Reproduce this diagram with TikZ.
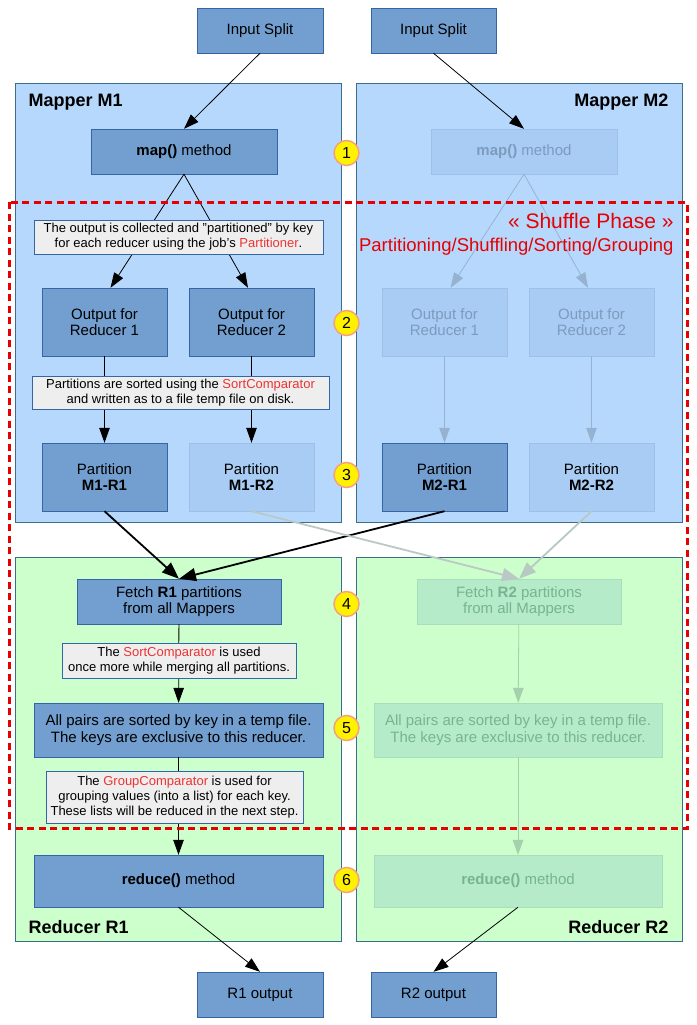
\documentclass[tikz,border=0pt]{standalone}
\usepackage{fontspec}
\setmainfont{Liberation Sans}
\usetikzlibrary{arrows.meta}

\definecolor{mapbg}{RGB}{183,216,253}
\definecolor{redbg}{RGB}{204,255,204}
\definecolor{frameline}{RGB}{60,110,140}
\definecolor{boxfill}{RGB}{114,159,207}
\definecolor{boxline}{RGB}{52,101,164}
\definecolor{notefill}{RGB}{238,238,238}
\definecolor{hilite}{RGB}{238,51,51}
\definecolor{fadefill}{RGB}{168,204,243}
\definecolor{fadeline}{RGB}{158,192,232}
\definecolor{fadetext}{RGB}{125,155,190}
\definecolor{fadearrow}{RGB}{150,178,208}
\definecolor{greenfill}{RGB}{181,235,200}
\definecolor{greenline}{RGB}{168,222,188}
\definecolor{greentext}{RGB}{120,180,145}
\definecolor{greenarrow}{RGB}{165,208,172}
\definecolor{crossarrow}{RGB}{188,200,198}
\definecolor{shuffle}{RGB}{230,0,0}
\definecolor{badgeline}{RGB}{244,160,130}

\newcommand{\boxfont}{\fontsize{15}{16.5}\selectfont}
\newcommand{\notefont}{\fontsize{13}{15}\selectfont}
\newcommand{\titlefont}{\fontsize{18}{20}\selectfont\bfseries}
\newcommand{\redword}[1]{\textcolor{hilite}{#1}}

\tikzset{
    blk/.style={draw=boxline, fill=boxfill, inner sep=0pt, align=center, font=\boxfont},
    fadeblk/.style={draw=fadeline, fill=fadefill, inner sep=0pt, align=center, font=\boxfont},
    greenblk/.style={draw=greenline, fill=greenfill, text=greentext, inner sep=0pt, align=center, font=\boxfont},
    note/.style={draw=boxline, fill=notefill, inner sep=0pt, align=center, font=\notefont},
    badge/.style={circle, draw=badgeline, fill=yellow, line width=1.5pt, minimum size=25, inner sep=0pt, font=\fontsize{16}{18}\selectfont},
    small/.style={minimum width=125, minimum height=68},
    heavy/.style={line width=1.8pt, -{Triangle[length=17pt,width=13pt]}},
}

\begin{document}
\begin{tikzpicture}[x=1pt, y=-1pt, >={Triangle[length=15pt,width=10.5pt]}]
    \useasboundingbox (0,0) rectangle (696,1025);

    % frames
    \filldraw[fill=mapbg, draw=frameline] (15,83) rectangle (341,522);
    \filldraw[fill=mapbg, draw=frameline] (356,83) rectangle (682,522);
    \filldraw[fill=redbg, draw=frameline] (15,557) rectangle (341,941);
    \filldraw[fill=redbg, draw=frameline] (356,557) rectangle (682,941);
    \node[font=\titlefont, anchor=base west] (m1title) at (25,106) {Mapper M1};
    \node[font=\titlefont, anchor=base east] (m2title) at (672,106) {Mapper M2};
    \node[font=\titlefont, anchor=base west] (r1title) at (25,933) {Reducer R1};
    \node[font=\titlefont, anchor=base east] (r2title) at (672,933) {Reducer R2};

    % nodes
    \begin{scope}[every node/.append style={minimum width=186, minimum height=45}]
        \node[blk, minimum width=126] (in1) at (260,30.5) {Input Split};
        \node[blk, minimum width=125] (in2) at (433.5,30.5) {Input Split};
        \node[blk] (map1) at (184,151.5) {\textbf{map()} method};
        \node[fadeblk, text=fadetext] (map2) at (524,151.5) {\textbf{map()} method};
        \node[blk, minimum width=204] (fetch1) at (179,601.5) {Fetch \textbf{R1} partitions\\from all Mappers};
        \node[greenblk, minimum width=204] (fetch2) at (519,601.5) {Fetch \textbf{R2} partitions\\from all Mappers};
        \node[blk, minimum width=289, minimum height=54] (sort1) at (178.5,730) {All pairs are sorted by key in a temp file.\\The keys are exclusive to this reducer.};
        \node[greenblk, minimum width=288, minimum height=54] (sort2) at (518,730) {All pairs are sorted by key in a temp file.\\The keys are exclusive to this reducer.};
        \node[blk, minimum width=289, minimum height=52] (red1) at (178.5,881) {\textbf{reduce()} method};
        \node[greenblk, minimum width=288, minimum height=52] (red2) at (518,881) {\textbf{reduce()} method};
        \node[blk, minimum width=126] (out1) at (260,994.5) {R1 output};
        \node[blk, minimum width=125] (out2) at (433.5,994.5) {R2 output};
    \end{scope}
    \node[blk, small] (out11) at (104.5,322) {Output for\\Reducer 1};
    \node[blk, small] (out12) at (251.5,322) {Output for\\Reducer 2};
    \node[fadeblk, small, text=fadetext] (out21) at (444.5,322) {Output for\\Reducer 1};
    \node[fadeblk, small, text=fadetext] (out22) at (591.5,322) {Output for\\Reducer 2};
    \node[blk, small] (part11) at (104.5,477) {Partition\\\textbf{M1-R1}};
    \node[fadeblk, small] (part12) at (251.5,477) {Partition\\\textbf{M1-R2}};
    \node[blk, small] (part21) at (444.5,477) {Partition\\\textbf{M2-R1}};
    \node[fadeblk, small] (part22) at (591.5,477) {Partition\\\textbf{M2-R2}};

    % connectors
    \begin{scope}[every path/.style={->, line width=0.8pt}]
        \draw (in1.south) -- (map1.north);
        \draw (in2.south) -- (map2.north);
        \draw (map1.south) -- ([xshift=6pt]out11.north);
        \draw (map1.south) -- ([xshift=-3.5pt]out12.north);
        \draw (out11) -- (part11);
        \draw (out12) -- (part12);
        \draw (fetch1) -- (sort1);
        \draw (sort1) -- (red1);
        \draw (red1.south) -- (out1.north);
        \draw (red2.south) -- (out2.north);
        \draw[fadearrow] (map2.south) -- ([xshift=6pt]out21.north);
        \draw[fadearrow] (map2.south) -- ([xshift=-3.5pt]out22.north);
        \draw[fadearrow] (out21) -- (part21);
        \draw[fadearrow] (out22) -- (part22);
        \draw[greenarrow] (fetch2) -- (sort2);
        \draw[greenarrow] (sort2) -- (red2);
        \draw[heavy] (part11.south) -- (fetch1.north);
        \draw[heavy] (part21.south) -- (fetch1.north);
        \draw[heavy, crossarrow] (part12.south) -- (fetch2.north);
        \draw[heavy, crossarrow!80!greenarrow] (part22.south) -- (fetch2.north);
    \end{scope}

    % notes over the connectors
    \node[note, minimum width=289, minimum height=34] (note1) at (178.5,237)
        {The output is collected and "partitioned" by key\\for each reducer using the job's \redword{Partitioner}.};
    \node[note, minimum width=297, minimum height=33] (note2) at (180.5,392.5)
        {Partitions are sorted using the \redword{SortComparator}\\and written as to a file temp file on disk.};
    \node[note, minimum width=234, minimum height=35] (note3) at (179,660.5)
        {The \redword{SortComparator} is used\\once more while merging all partitions.};
    \node[note, minimum width=257, minimum height=52] (note4) at (174.5,797)
        {The \redword{GroupComparator} is used for\\grouping values (into a list) for each key.\\These lists will be reduced in the next step.};

    % step badges
    \foreach \num/\ypos in {1/153, 2/323, 3/475, 4/604, 5/728, 6/880}
        \node[badge] (badge\num) at (346.5,\ypos) {\num};

    % shuffle phase
    \draw[shuffle, line width=3pt, dash pattern=on 7pt off 4.5pt] (9,202) rectangle (687,828);
    \node[shuffle, font=\fontsize{21}{24}\selectfont, anchor=base east] (shtitle) at (677,228) {« Shuffle Phase »};
    \node[shuffle, font=\fontsize{18.5}{21}\selectfont, anchor=base east] (shsub) at (677,251) {Partitioning/Shuffling/Sorting/Grouping};
\end{tikzpicture}
\end{document}
